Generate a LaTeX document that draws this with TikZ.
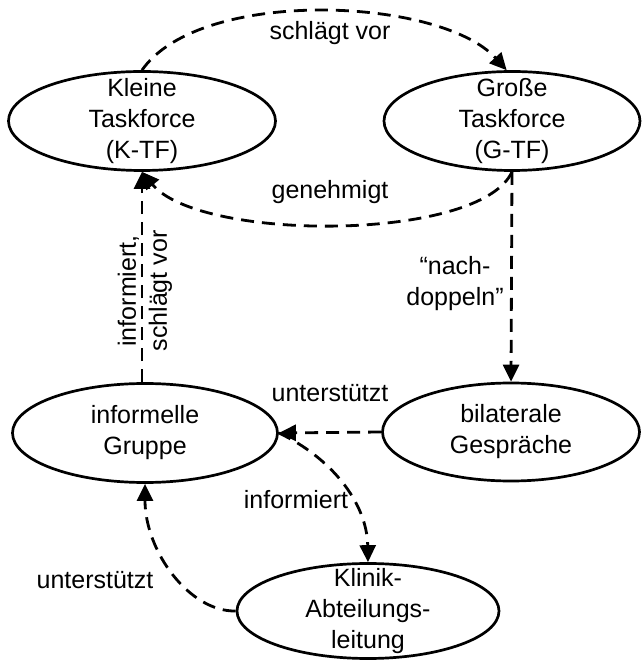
\documentclass[tikz,border=0pt]{standalone}
\usepackage{fontspec}
\setmainfont{Liberation Sans}
\usetikzlibrary{shapes.geometric,arrows.meta}
\begin{document}
\begin{tikzpicture}[x=1pt,y=1pt,
  oval/.style={draw, ellipse, line width=2.7pt, inner sep=0pt},
  txt/.style={font=\fontsize{25}{31}\selectfont, align=center, inner sep=0pt},
  conn/.style={line width=2.8pt, dash pattern=on 13pt off 8pt,
    -{Triangle[length=17pt,width=16pt]}}]
\useasboundingbox (0,0) rectangle (642,662);
% ellipses
\node[oval, minimum width=267pt, minimum height=99pt] (K) at (142,541) {};
\node[oval, minimum width=256pt, minimum height=99pt] (G) at (512,541) {};
\node[oval, minimum width=265pt, minimum height=99pt] (I) at (145,229) {};
\node[oval, minimum width=257pt, minimum height=98pt] (B) at (511,230) {};
\node[oval, minimum width=262pt, minimum height=95pt] (L) at (368,51) {};
% texts
\node[txt] (Kt) at (K) {Kleine\\Taskforce\\(K-TF)};
\node[txt] (Gt) at (G) {Große\\Taskforce\\(G-TF)};
\node[txt] (It) at (I) {informelle\\Gruppe};
\node[txt] (Bt) at (B) {bilaterale\\Gespräche};
\node[txt] (Lt) at (L) {Klinik-\\Abteilungs-\\leitung};
% connectors
\draw[conn] (K.north) .. controls (200,675) and (440,665) .. (G.96);
\draw[conn] (G.south) .. controls (480,420) and (200,420) .. (K.south);
\draw[conn] (G.south) -- (B.north);
\draw[conn] (I.north -| K.south) -- (K.south);
\draw[conn] (B.west) -- (I.east);
\draw[conn] (I.east) .. controls (330,205) and (367,160) .. (L.north);
\draw[conn] (L.west) .. controls (190,50) and (145,110) .. (I.south);
% labels
\node[txt] (l1) at (330,629) {schlägt vor};
\node[txt] (l2) at (330,470) {genehmigt};
\node[txt] (l3) at (455,378) {“nach-\\doppeln”};
\node[txt, rotate=90] (l4) at (145,371) {informiert,\\schlägt vor};
\node[txt] (l5) at (330,269) {unterstützt};
\node[txt] (l6) at (296,162) {informiert};
\node[txt] (l7) at (95,82) {unterstützt};
\end{tikzpicture}
\end{document}
